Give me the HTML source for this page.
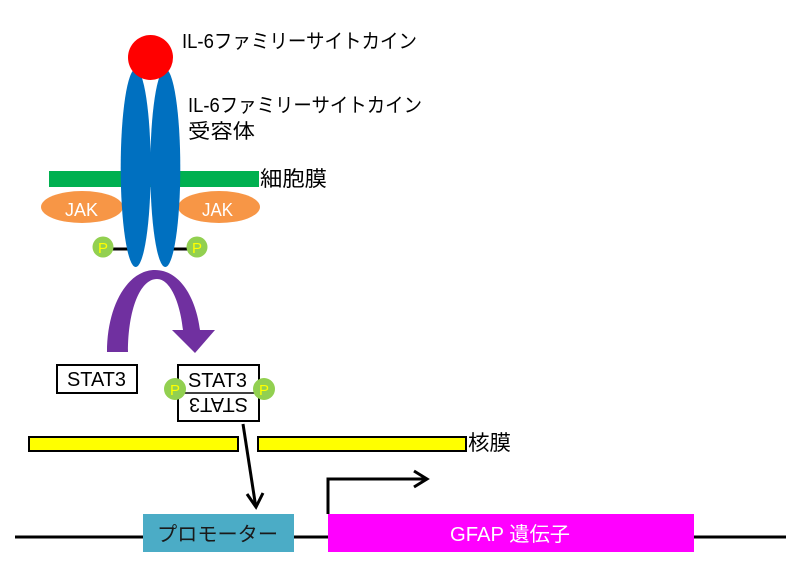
<!DOCTYPE html>
<html><head><meta charset="utf-8"><style>
html,body{margin:0;padding:0;background:#fff;}
svg{display:block;}
text{font-family:"Liberation Sans","Noto Sans CJK JP",sans-serif;}
</style></head><body>
<svg width="800" height="580" viewBox="0 0 800 580" xmlns="http://www.w3.org/2000/svg">
<rect width="800" height="580" fill="#fff"/>
<!-- membrane -->
<rect x="49" y="171" width="210" height="16" fill="#00B050"/>
<!-- JAK -->
<ellipse cx="82" cy="207" rx="41" ry="16" fill="#F79646"/>
<ellipse cx="219" cy="207" rx="41" ry="16" fill="#F79646"/>
<text x="65" y="216" font-size="18" fill="#fff" textLength="33" lengthAdjust="spacingAndGlyphs">JAK</text>
<text x="202" y="216" font-size="18" fill="#fff" textLength="31" lengthAdjust="spacingAndGlyphs">JAK</text>
<!-- P links -->
<line x1="112" y1="249" x2="128" y2="249" stroke="#000" stroke-width="3"/>
<line x1="172" y1="249" x2="188" y2="249" stroke="#000" stroke-width="3"/>
<!-- receptor -->
<ellipse cx="135.7" cy="168" rx="15" ry="99" fill="#0070C0"/>
<ellipse cx="165.3" cy="168" rx="15" ry="99" fill="#0070C0"/>
<!-- cytokine -->
<circle cx="150.5" cy="57.5" r="22.5" fill="#FF0000"/>
<!-- P circles -->
<circle cx="103" cy="247" r="10.5" fill="#92D050"/>
<circle cx="197" cy="247" r="10.5" fill="#92D050"/>
<text x="103" y="253" font-size="15" fill="#FFFF00" text-anchor="middle">P</text>
<text x="197" y="253" font-size="15" fill="#FFFF00" text-anchor="middle">P</text>
<!-- labels -->
<text x="182" y="48" font-size="20" fill="#000" textLength="235" lengthAdjust="spacingAndGlyphs">IL-6ファミリーサイトカイン</text>
<text x="188" y="112" font-size="20" fill="#000" textLength="234" lengthAdjust="spacingAndGlyphs">IL-6ファミリーサイトカイン</text>
<text x="188" y="138" font-size="20" fill="#000" textLength="67" lengthAdjust="spacingAndGlyphs">受容体</text>
<text x="260" y="186" font-size="21" fill="#000" textLength="67" lengthAdjust="spacingAndGlyphs">細胞膜</text>
<!-- purple curved arrow -->
<path d="M107,352 C107,305 128,270 155,270 C180,270 196,298 200,330 L215,330 L195,353 L172,330 L183,330 C180,302 170,279 157,279 C140,279 128,310 128,352 Z" fill="#7030A0"/>
<!-- STAT3 left -->
<rect x="57" y="365" width="80" height="28" fill="#fff" stroke="#000" stroke-width="2"/>
<text x="67" y="386" font-size="20" fill="#000" textLength="59" lengthAdjust="spacingAndGlyphs">STAT3</text>
<!-- STAT3 dimer -->
<rect x="178" y="365" width="81" height="56" fill="#fff" stroke="#000" stroke-width="2"/>
<line x1="178" y1="393" x2="259" y2="393" stroke="#000" stroke-width="1.5"/>
<text x="188" y="387" font-size="20" fill="#000" textLength="59" lengthAdjust="spacingAndGlyphs">STAT3</text>
<g transform="rotate(180 218 405.5)">
<text x="188" y="413" font-size="20" fill="#000" textLength="59" lengthAdjust="spacingAndGlyphs">STAT3</text>
</g>
<circle cx="175" cy="389" r="11" fill="#92D050"/>
<circle cx="264" cy="389" r="11" fill="#92D050"/>
<text x="175" y="395" font-size="15" fill="#FFFF00" text-anchor="middle">P</text>
<text x="264" y="395" font-size="15" fill="#FFFF00" text-anchor="middle">P</text>
<!-- nuclear membrane -->
<rect x="29" y="437" width="209" height="14" fill="#FFFF00" stroke="#000" stroke-width="2"/>
<rect x="258" y="437" width="208" height="14" fill="#FFFF00" stroke="#000" stroke-width="2"/>
<text x="468" y="450" font-size="21" fill="#000" textLength="43" lengthAdjust="spacingAndGlyphs">核膜</text>
<!-- arrow to promoter -->
<line x1="243" y1="424" x2="255.5" y2="505" stroke="#000" stroke-width="3"/>
<polyline points="247,494 256,507 263,493" fill="none" stroke="#000" stroke-width="3" stroke-linejoin="miter"/>
<!-- DNA -->
<line x1="15" y1="537" x2="786" y2="537" stroke="#000" stroke-width="3"/>
<rect x="143" y="514" width="151" height="38" fill="#4BACC6"/>
<text x="157" y="541" font-size="20" fill="#1a1a1a" textLength="121" lengthAdjust="spacingAndGlyphs">プロモーター</text>
<rect x="328" y="514" width="366" height="38" fill="#FF00FF"/>
<text x="450" y="541" font-size="20" fill="#fff" textLength="120" lengthAdjust="spacingAndGlyphs">GFAP 遺伝子</text>
<!-- transcription start arrow -->
<polyline points="328,514 328,479 426,479" fill="none" stroke="#000" stroke-width="3"/>
<polyline points="414,471 427,479 414,487" fill="none" stroke="#000" stroke-width="3"/>
</svg>
</body></html>
